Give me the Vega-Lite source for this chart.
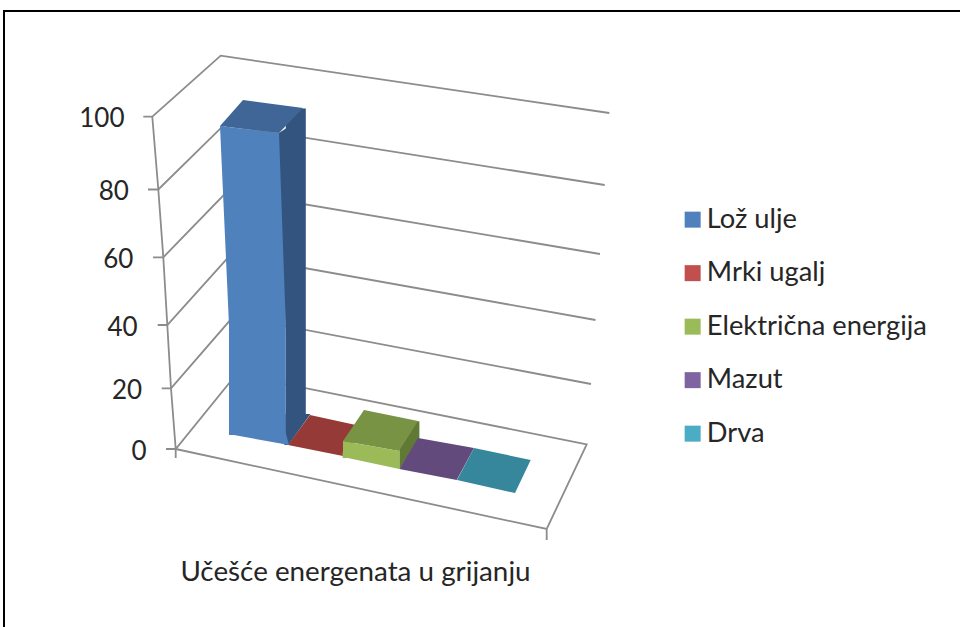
{
"$schema":"https://vega.github.io/schema/vega-lite/v6.json",
"width":960,"height":627,"padding":0,"autosize":{"type":"none"},
"background":"white",
"config":{"view":{"stroke":null},"font":"Lato"},
"datasets":{
"energenti":[
{"Energent":"Lož ulje","Vrijednost":94},
{"Energent":"Mrki ugalj","Vrijednost":0},
{"Energent":"Električna energija","Vrijednost":5.5},
{"Energent":"Mazut","Vrijednost":0},
{"Energent":"Drva","Vrijednost":0}],
"podjela":[{"v":0},{"v":20},{"v":40},{"v":60},{"v":80},{"v":100}]
},
"resolve":{"scale":{"color":"independent","shape":"independent"}},
"encoding":{
"x":{"field":"Energent","type":"nominal","sort":null,
"scale":{"domain":["Lož ulje","Mrki ugalj","Električna energija","Mazut","Drva"],"range":[229,513],"paddingInner":0,"paddingOuter":0},
"axis":{"orient":"bottom","offset":-54,"domain":false,"ticks":false,"labels":false,"grid":false,"title":"Učešće energenata u grijanju","titleFont":"Lato","titleFontSize":27.8,"titleFontWeight":"normal","titleColor":"#262626","titleX":355,"titleY":-1,"titleAlign":"center","titleBaseline":"middle"}},
"y":{"field":"Vrijednost","type":"quantitative","stack":null,
"scale":{"domain":[0,20,40,60,80,100],"range":[449,388.3,325,257.3,189.5,116.7],"nice":false,"zero":false},
"axis":{"orient":"left","offset":-146,"domain":false,"ticks":false,"grid":false,"title":null,"values":[0,20,40,60,80,100],"labelPadding":0,"labelFont":"Lato","labelFontSize":26,"labelColor":"#262626","labelBaseline":"middle",
"encoding":{"labels":{"dx":{"value":{"expr":"-datum.value*0.22"}},"dy":{"value":2}}}}}
},
"layer":[
{"data":{"name":"podjela"},"transform":[{"filter":"datum.v === 100"}],
"mark":{"type":"point","filled":false,"opacity":1,"size":10000,"stroke":"#000000","strokeWidth":2},
"encoding":{"x":{"datum":"Lož ulje","type":"nominal"},"y":{"field":"v","type":"quantitative"},
"shape":{"field":"v","type":"ordinal","legend":null,"scale":{"domain":[100],"range":["M-5.068,10.466L-5.068,-2.114L14.252,-2.114"]}}}},
{"data":{"name":"podjela"},
"mark":{"type":"point","filled":false,"opacity":1,"size":10000,"stroke":"#8C8C8C","strokeWidth":1.8,"xOffset":3},
"encoding":{"x":{"datum":"Lož ulje","type":"nominal"},"y":{"field":"v","type":"quantitative"},
"shape":{"field":"v","type":"ordinal","legend":null,"scale":{"domain":[0,20,40,60,80,100],"range":[
"M-1.888,0L-1.694,0L-0.48,-1.494L6.526,-0.094L5.726,1.6L-1.694,0M5.726,1.6L5.726,1.82M-1.694,0.18L-1.694,0L-1.788,-1.214L-1.862,-2.48L-1.942,-3.834L-2.042,-5.19L-2.162,-6.646",
"M-1.974,0L-1.788,0L-0.538,-1.44L6.612,-0.086",
"M-2.054,0L-1.862,0L-0.598,-1.404L6.702,-0.1",
"M-2.148,0L-1.942,0L-0.66,-1.32L6.792,-0.066",
"M-2.248,0L-2.042,0L-0.726,-1.292L6.886,-0.09",
"M-2.342,0L-2.162,0L-0.794,-1.22L6.978,-0.074"]}}}},
{"data":{"name":"energenti"},"transform":[{"filter":"datum.Vrijednost > 0"}],
"mark":{"type":"bar","width":20,"xOffset":38.4,
"yOffset":{"expr":"-30+9.5*indexof(['Lož ulje','Mrki ugalj','Električna energija','Mazut','Drva'],datum.Energent)"},
"y2Offset":{"expr":"-35+12.5*indexof(['Lož ulje','Mrki ugalj','Električna energija','Mazut','Drva'],datum.Energent)"}},
"encoding":{"y2":{"datum":0},"color":{"field":"Energent","type":"nominal","legend":null,"scale":{"domain":["Lož ulje","Električna energija"],"range":["#33547E","#607A36"]}}}},
{"data":{"name":"energenti"},"transform":[{"filter":"datum.Vrijednost > 0"}],
"mark":{"type":"point","filled":true,"opacity":1,"size":10000,"strokeWidth":0,"xOffset":3},
"encoding":{"y":{"datum":0,"type":"quantitative"},
"color":{"field":"Energent","type":"nominal","legend":null,"scale":{"domain":["Lož ulje","Električna energija"],"range":["#33547E","#607A36"]}},
"shape":{"field":"Energent","type":"nominal","legend":null,"scale":{"domain":["Lož ulje","Električna energija"],"range":["M0.48,-0.08L0.56,-0.08L1.0,-0.7L0.48,-0.7Z","M0.508,0.4L0.508,-0.2L0.896,-0.2Z"]}}}},
{"data":{"name":"energenti"},
"mark":{"type":"point","filled":true,"opacity":1,"size":10000,"strokeWidth":0,"xOffset":3},
"encoding":{
"color":{"field":"Energent","type":"nominal","legend":null,"scale":{"domain":["Lož ulje","Mrki ugalj","Električna energija","Mazut","Drva"],"range":["#3F6696","#953A37","#789344","#624A7C","#36879B"]}},
"shape":{"field":"Energent","type":"nominal","legend":null,"scale":{"domain":["Lož ulje","Mrki ugalj","Električna energija","Mazut","Drva"],"range":[
"M-0.808,-0.25L0.372,-0.11L0.852,-0.61L-0.348,-0.77Z",
"M-0.584,-0.08L0.516,0.14L0.956,-0.44L-0.144,-0.68Z",
"M-0.62,0.174L0.5,0.374L0.88,-0.226L-0.2,-0.446Z",
"M-0.63,0.4L0.518,0.62L0.864,-0.02L-0.256,-0.22Z",
"M-0.612,0.62L0.548,0.88L0.862,0.22L-0.272,-0.02Z"]}}}},
{"data":{"name":"energenti"},"transform":[{"filter":"datum.Vrijednost > 0"}],
"mark":{"type":"bar",
"yOffset":{"expr":"-3+11.5*indexof(['Lož ulje','Mrki ugalj','Električna energija','Mazut','Drva'],datum.Energent)"},
"y2Offset":{"expr":"-14+11.5*indexof(['Lož ulje','Mrki ugalj','Električna energija','Mazut','Drva'],datum.Energent)"}},
"encoding":{"y2":{"datum":0},
"color":{"field":"Energent","type":"nominal",
"scale":{"domain":["Lož ulje","Mrki ugalj","Električna energija","Mazut","Drva"],"range":["#4F81BD","#C0504D","#9BBB59","#8064A2","#4BACC6"]},
"legend":{"orient":"none","legendX":679,"legendY":206,"title":null,"symbolType":"square","symbolSize":256,"symbolStrokeWidth":0,"symbolOpacity":1,"labelFont":"Lato","labelFontSize":27.3,"labelColor":"#262626","labelOffset":0.5,"rowPadding":25.5,"labelLimit":300,"padding":0}}}},
{"data":{"name":"energenti"},"transform":[{"filter":"datum.Vrijednost > 0"}],
"mark":{"type":"point","filled":true,"opacity":1,"size":10000,"strokeWidth":0,"xOffset":3},
"encoding":{
"color":{"field":"Energent","type":"nominal","legend":null,"scale":{"domain":["Lož ulje","Električna energija"],"range":["#4F81BD","#9BBB59"]}},
"shape":{"field":"Energent","type":"nominal","legend":null,"scale":{"domain":["Lož ulje","Električna energija"],"range":["M-0.808,-0.25L0.372,-0.11L0.492,0.23L-0.2,3.73L-0.628,3.73Z","M-0.62,0.174L0.508,0.374L0.508,0.454L-0.62,0.454Z"]}}}},
{"data":{"name":"energenti"},"transform":[{"filter":"datum.Vrijednost > 0"}],
"mark":{"type":"point","filled":true,"opacity":1,"size":10000,"strokeWidth":0,"xOffset":3},
"encoding":{"y":{"datum":0,"type":"quantitative"},
"color":{"field":"Energent","type":"nominal","legend":null,"scale":{"domain":["Lož ulje","Električna energija"],"range":["#4F81BD","#9BBB59"]}},
"shape":{"field":"Energent","type":"nominal","legend":null,"scale":{"domain":["Lož ulje","Električna energija"],"range":["M-0.628,-0.38L0.492,-0.38L0.572,-0.08L-0.528,-0.28Z","M-0.62,0.12L0.508,0.12L0.508,0.4L-0.62,0.16Z"]}}}},
{"data":{"name":"energenti"},"transform":[{"filter":"datum.Vrijednost > 50"}],
"mark":{"type":"point","filled":true,"opacity":1,"size":10000,"strokeWidth":0,"xOffset":3,"fill":"#33547E"},
"encoding":{
"shape":{"field":"Energent","type":"nominal","legend":null,"scale":{"domain":["Lož ulje"],"range":["M0.372,-0.11L0.522,-0.21L0.522,4.13Z"]}}}}
]
}
